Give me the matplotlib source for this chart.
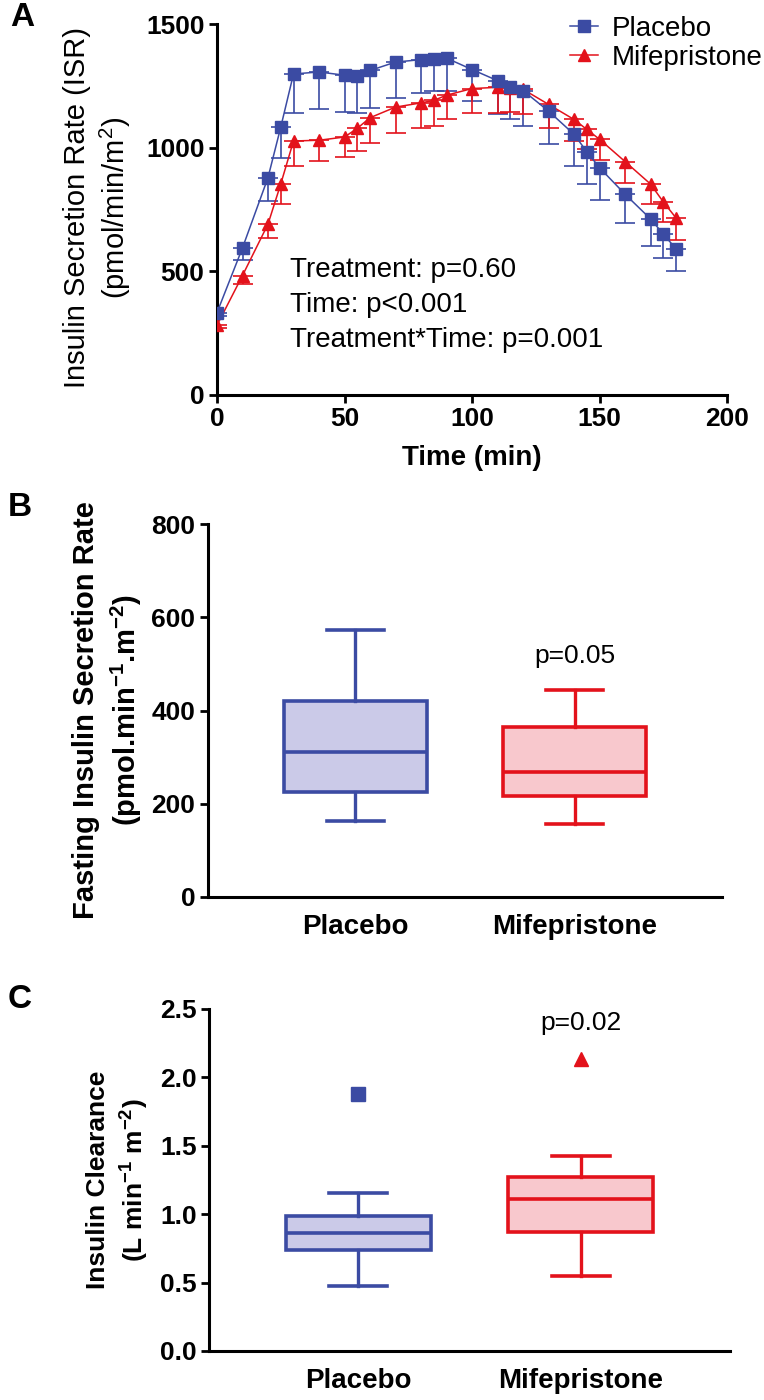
import numpy as np
import matplotlib
matplotlib.use("Agg")
import matplotlib.pyplot as plt

plt.rcParams["font.family"] = ["Liberation Sans", "DejaVu Sans"]
plt.rcParams["mathtext.fontset"] = "custom"
plt.rcParams["mathtext.rm"] = "Liberation Sans"
plt.rcParams["mathtext.bf"] = "Liberation Sans:bold"

# ---- data ----
times = [0, 10, 20, 25, 30, 40, 50, 55, 60, 70, 80, 85, 90, 100, 110,
         115, 120, 130, 140, 145, 150, 160, 170, 175, 180]
placebo_isr = [333, 595, 879, 1083, 1298, 1306, 1293, 1290, 1312, 1346, 1356, 1360, 1362, 1316, 1271,
               1244, 1231, 1148, 1054, 984, 919, 812, 712, 651, 591]
placebo_sem = [15, 50, 95, 125, 157, 150, 148, 150, 153, 145, 134, 132, 134, 128, 134,
               130, 144, 132, 128, 129, 131, 118, 108, 98, 90]
mife_isr = [282, 483, 691, 853, 1027, 1030, 1043, 1078, 1121, 1164, 1181, 1191, 1212, 1239, 1244,
            1242, 1236, 1175, 1114, 1074, 1034, 944, 853, 781, 716]
mife_sem = [10, 36, 56, 79, 100, 84, 81, 91, 101, 104, 100, 104, 98, 98, 103,
            97, 101, 94, 87, 81, 85, 85, 81, 83, 89]

groups = ["Placebo", "Mifepristone"]
# box stats: whisker low, q1, median, q3, whisker high
fasting_placebo = [163, 226, 312, 420, 573]
fasting_mife = [157, 217, 269, 364, 443]
clear_placebo = [0.477, 0.737, 0.866, 0.987, 1.158]
clear_mife = [0.55, 0.871, 1.109, 1.272, 1.423]
clear_outliers = [1.88, 2.135]

blue = "#3B4BA3"
red = "#E3121B"
blue_fill = "#CBCAE8"
red_fill = "#F8C8CD"

W, H = 764, 1400
fig = plt.figure(figsize=(W / 100, H / 100), dpi=100)


def axes_px(left, right, top, bottom):
    return fig.add_axes([left / W, 1 - bottom / H, (right - left) / W, (bottom - top) / H])


def style(ax):
    for s in ["top", "right"]:
        ax.spines[s].set_visible(False)
    for s in ["left", "bottom"]:
        ax.spines[s].set_linewidth(2.2)
    ax.tick_params(width=2, length=6, labelsize=19, pad=3)
    for lab in ax.get_xticklabels() + ax.get_yticklabels():
        lab.set_fontweight("bold")


# ---- Panel A ----
axA = axes_px(217, 727, 24, 395)
zero = np.zeros(len(times))
axA.errorbar(times, placebo_isr, yerr=[placebo_sem, zero], fmt="none",
             ecolor=blue, elinewidth=1.2, capsize=7, capthick=1.2, zorder=2)
axA.errorbar(times, mife_isr, yerr=[mife_sem, zero], fmt="none",
             ecolor=red, elinewidth=1.2, capsize=7, capthick=1.2, zorder=2)
axA.plot(times, mife_isr, color=red, lw=1.1, marker="^", ms=8.5,
         label="Mifepristone", zorder=3)
axA.plot(times, placebo_isr, color=blue, lw=1.1, marker="s", ms=8.5,
         label="Placebo", zorder=4)
axA.set_xlim(0, 200)
axA.set_ylim(0, 1500)
axA.set_xticks([0, 50, 100, 150, 200])
axA.set_yticks([0, 500, 1000, 1500])
style(axA)
axA.set_xlabel("Time (min)", fontsize=20, fontweight="bold", labelpad=10)
axA.text(28.6, 504, "Treatment: p=0.60", fontsize=20, va="center")
axA.text(28.6, 363, "Time: p<0.001", fontsize=20, va="center")
axA.text(28.6, 222, "Treatment*Time: p=0.001", fontsize=20, va="center")
h, l = axA.get_legend_handles_labels()
fig.legend(h[::-1], l[::-1], loc="upper left", bbox_to_anchor=(570 / W, 1 - 16 / H),
           frameon=False, fontsize=20, handlelength=1.0, handletextpad=0.5,
           labelspacing=0.1, borderpad=0, borderaxespad=0, numpoints=1)
fig.text(98 / W, 1 - 208 / H, "Insulin Secretion Rate (ISR)\n(pmol/min/m$^{\\mathrm{2}}$)",
         rotation=90, ha="center", va="center", fontsize=21, multialignment="center",
         linespacing=1.25)
fig.text(10 / W, 1 - 18 / H, "A", fontsize=24, fontweight="bold", va="center")


def box_panel(ax, stats_list, outliers=None):
    colors = [(blue, blue_fill, "s"), (red, red_fill, "^")]
    for i, (st, (ec, fc, mk)) in enumerate(zip(stats_list, colors)):
        d = dict(whislo=st[0], q1=st[1], med=st[2], q3=st[3], whishi=st[4],
                 fliers=[outliers[i]] if outliers else [])
        ax.bxp([d], positions=[i + 1], widths=0.65, capwidths=0.26, patch_artist=True,
               showfliers=True,
               boxprops=dict(facecolor=fc, edgecolor=ec, linewidth=2.6),
               medianprops=dict(color=ec, linewidth=2.6),
               whiskerprops=dict(color=ec, linewidth=2.4),
               capprops=dict(color=ec, linewidth=2.6),
               flierprops=dict(marker=mk, markerfacecolor=ec, markeredgecolor=ec,
                               markersize=10))
    ax.set_xlim(0.33, 2.67)
    ax.set_xticks([1, 2])
    ax.set_xticklabels(groups)
    style(ax)
    ax.tick_params(axis="x", length=0, pad=12, labelsize=20)


# ---- Panel B ----
axB = axes_px(208, 722, 524, 897)
box_panel(axB, [fasting_placebo, fasting_mife])
axB.set_ylim(0, 800)
axB.set_yticks([0, 200, 400, 600, 800])
style(axB)
axB.tick_params(axis="x", length=0, pad=12, labelsize=20)
axB.text(2, 516, "p=0.05", fontsize=19, ha="center", va="center")
fig.text(108 / W, 1 - 710 / H,
         "Fasting Insulin Secretion Rate\n(pmol.min$^{\\mathbf{-1}}$.m$^{\\mathbf{-2}}$)",
         rotation=90, ha="center", va="center", fontsize=21, fontweight="bold",
         multialignment="center", linespacing=1.3)
fig.text(8 / W, 1 - 508 / H, "B", fontsize=24, fontweight="bold", va="center")

# ---- Panel C ----
axC = axes_px(209, 730, 1009, 1351)
box_panel(axC, [clear_placebo, clear_mife], clear_outliers)
axC.set_ylim(0, 2.5)
axC.set_yticks([0, 0.5, 1.0, 1.5, 2.0, 2.5])
axC.set_yticklabels(["0.0", "0.5", "1.0", "1.5", "2.0", "2.5"])
style(axC)
axC.tick_params(axis="x", length=0, pad=12, labelsize=20)
axC.text(2, 2.40, "p=0.02", fontsize=19, ha="center", va="center")
fig.text(118 / W, 1 - 1180 / H,
         "Insulin Clearance\n(L min$^{\\mathbf{-1}}$ m$^{\\mathbf{-2}}$)",
         rotation=90, ha="center", va="center", fontsize=19, fontweight="bold",
         multialignment="center", linespacing=1.3)
fig.text(8 / W, 1 - 1000 / H, "C", fontsize=24, fontweight="bold", va="center")

fig.savefig("out.png", dpi=100)
